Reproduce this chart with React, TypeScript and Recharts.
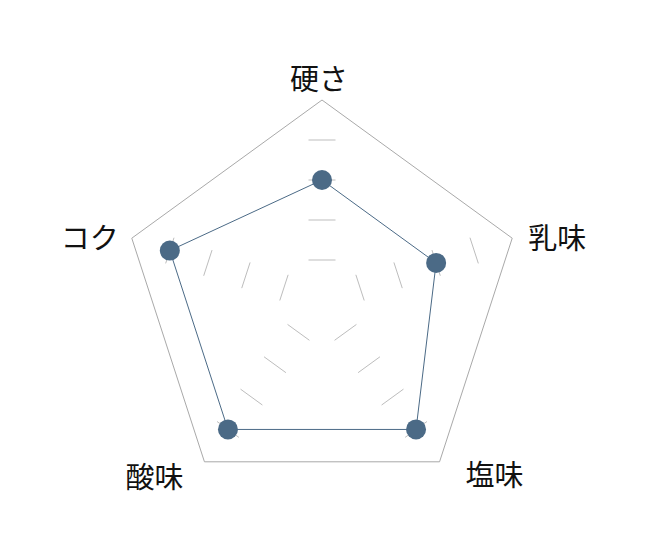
import React from "react";
import { RadarChart, Radar, PolarAngleAxis, PolarRadiusAxis } from "recharts";

const categories = ["硬さ", "乳味", "塩味", "酸味", "コク"];
const values = [3, 3, 4, 4, 4];
const radiusTicks = [0, 1, 2, 3, 4, 5];

const data = categories.map((c, i) => ({ subject: c, value: values[i] }));

const W = 629;
const H = 544;
const CX = 314;
const CY = 292;
const R = 200;
const LINE = "#4b6a86";
const GRID = "#a9a9a9";
const DASH = "#bdbdbd";
const DASH_HALF = 13.5;
const FONT = "'Noto Sans CJK JP', 'Noto Sans CJK SC', sans-serif";

// label placement relative to each outer vertex: [anchor, dx, dy]
const labelPlacement: [string, number, number][] = [
  ["middle", -3, -23],
  ["start", 16, -2.5],
  ["start", 26, 11],
  ["end", -21, 13],
  ["end", -13, -2],
];

const AngleTick = (props: any) => {
  const { x, y, payload, index } = props;
  const dx = x - CX;
  const dy = y - CY;
  const d = Math.sqrt(dx * dx + dy * dy) || 1;
  const vx = CX + (dx / d) * R;
  const vy = CY + (dy / d) * R;
  const [anchor, ox, oy] = labelPlacement[index % labelPlacement.length];
  return (
    <text
      x={vx + ox}
      y={vy + oy}
      textAnchor={anchor as any}
      dominantBaseline="central"
      fontSize={29}
      fontFamily={FONT}
      fill="#111"
    >
      {payload.value}
    </text>
  );
};

const RadiusTick = (props: any) => {
  const { y, payload } = props;
  const v = payload?.value;
  if (v === 0 || v === 5) return <g />;
  const r = CY - y;
  return (
    <g>
      {categories.map((_, i) => {
        const a = ((90 - i * 72) * Math.PI) / 180;
        const px = CX + r * Math.cos(a);
        const py = CY - r * Math.sin(a);
        const perpX = Math.sin(a);
        const perpY = Math.cos(a);
        return (
          <line
            key={i}
            x1={px - perpX * DASH_HALF}
            y1={py - perpY * DASH_HALF}
            x2={px + perpX * DASH_HALF}
            y2={py + perpY * DASH_HALF}
            stroke={DASH}
            strokeWidth={1}
          />
        );
      })}
    </g>
  );
};

export default function App() {
  return (
    <div style={{ width: W, height: H }}>
      <RadarChart
        width={W}
        height={H}
        data={data}
        cx={CX}
        cy={CY}
        outerRadius={R}
        margin={{ top: 0, right: 0, bottom: 0, left: 0 }}
      >
        <PolarAngleAxis
          dataKey="subject"
          axisLine={{ stroke: GRID, strokeWidth: 1 }}
          tickLine={false}
          tick={<AngleTick />}
        />
        <PolarRadiusAxis
          angle={90}
          domain={[0, 5]}
          ticks={radiusTicks as any}
          tickCount={6}
          axisLine={false}
          tick={<RadiusTick />}
        />
        <Radar
          dataKey="value"
          stroke={LINE}
          strokeWidth={1}
          fill="none"
          fillOpacity={0}
          dot={{ r: 10, fill: LINE, stroke: "none", fillOpacity: 1 }}
          isAnimationActive={false}
        />
      </RadarChart>
    </div>
  );
}
